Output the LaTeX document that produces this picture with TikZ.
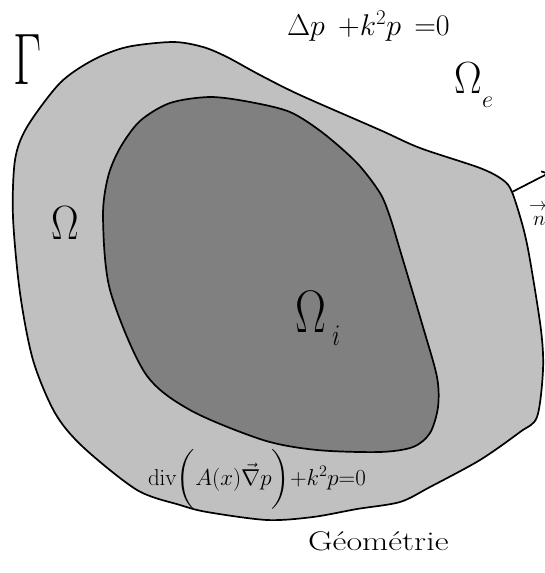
\RequirePackage{fix-cm}
\documentclass[tikz,border=0pt]{standalone}
\usepackage{amsmath}
\usetikzlibrary{arrows.meta}
\definecolor{outerfill}{RGB}{192,192,192}
\definecolor{innerfill}{RGB}{128,128,128}
\tikzset{
  region/.style={draw=black, line width=1.7pt, line join=round},
  lbl/.style={inner sep=0pt, outer sep=0pt},
}
\begin{document}
\begin{tikzpicture}[x=1pt,y=-1pt]
\useasboundingbox (0,0) rectangle (545,573);
% outer domain Omega
\path[region, fill=outerfill] plot[smooth cycle, tension=0.5] coordinates {
 (60,83) (93,60) (127,47) (173,42) (203,47) (227,57) (260,75) (300,95)
 (380,130) (420,148) (480,168) (503,180) (512,192) (523,227) (530,260)
 (541,330) (543,370) (537,417) (520,432) (480,460) (430,487) (400,502)
 (357,509) (313,517) (267,520) (207,512) (180,505) (137,490) (83,447)
 (55,413) (33,360) (20,293) (13,217) (15,160) (27,127)};
% inner domain Omega_i
\path[region, fill=innerfill] plot[smooth cycle, tension=0.5] coordinates {
 (210,97) (250,102) (290,112) (323,133) (357,163) (380,193) (390,217)
 (400,250) (423,327) (437,377) (438,407) (430,433) (413,447) (380,452)
 (317,450) (263,440) (190,410) (145,373) (110,290) (103,217) (108,177)
 (120,148) (140,121) (170,103)};
% normal vector
\coordinate (nA) at (512,192);
\coordinate (nB) at (549,173);
\draw[line width=1.7pt, -{Straight Barb[length=5pt]}] (nA) -- (nB);
% labels
\node[lbl] (gamma) at (28,60) {\scalebox{0.67}[1]{\fontsize{73}{73}\selectfont$\Gamma$}};
\node[lbl] (omega) at (65,223) {\scalebox{0.86}[1]{\fontsize{48}{48}\selectfont$\Omega$}};
\node[lbl] (omegai) at (311,312) {\scalebox{0.77}[1]{\fontsize{60}{60}\selectfont$\Omega$}};
\node[lbl, anchor=base west] (omegaisub) at (332,345) {\scalebox{0.8}[1]{\fontsize{30}{30}\selectfont$i$}};
\node[lbl] (omegae) at (468,78) {\scalebox{0.92}[1]{\fontsize{45}{45}\selectfont$\Omega$}};
\node[lbl, anchor=base west] (omegaesub) at (482,107) {\fontsize{24}{24}\selectfont$e$};
\node[lbl, anchor=base west] (helm) at (287,35) {\fontsize{30}{30}\selectfont$\Delta p\;\,{+}k^2p\;\,{=}0$};
\node[lbl] (narrow) at (538,207) {\fontsize{18}{18}\selectfont$\rightarrow$};
\node[lbl, anchor=base west] (nvec) at (533,225) {\fontsize{21}{21}\selectfont$n$};
\node[lbl, anchor=base west] (diveq) at (148,485) {\fontsize{23}{23}\selectfont$\mathrm{div}\bigg(A(x)\vec{\nabla}p\bigg){+}k^2p{=}0$};
\node[lbl, anchor=base west] (geo) at (308,550) {\scalebox{1.26}[1]{\fontsize{27}{27}\selectfont Géométrie}};
\end{tikzpicture}
\end{document}
